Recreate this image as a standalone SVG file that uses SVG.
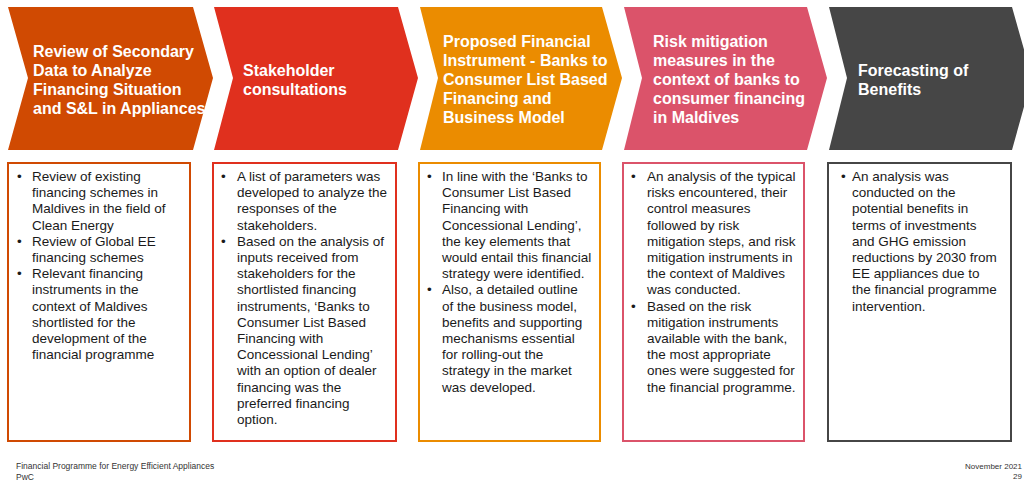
<svg xmlns="http://www.w3.org/2000/svg" width="1024" height="481" viewBox="0 0 1024 481">
<style>
.hd{font-family:"Liberation Sans",Arial,sans-serif;font-weight:bold;font-size:16px;fill:#ffffff}
.bd{font-family:"Liberation Sans",Arial,sans-serif;font-size:13.5px;fill:#1a1a1a}
.ft{font-family:"Liberation Sans",Arial,sans-serif;font-size:8.5px;fill:#333333}
.fr{font-family:"Liberation Sans",Arial,sans-serif;font-size:8px;fill:#333333;text-anchor:end}
.box{fill:#ffffff;stroke-width:2}
</style>
<rect x="0" y="0" width="1024" height="481" fill="#ffffff"/>
<g id="connectors"/>

<g id="step1-header">
<path d="M8,7 L193,7 L213,78 L193,150 L8,150 L28,78 Z" fill="#D04A02"/>
<text class="hd"><tspan x="33" y="57">Review of Secondary</tspan><tspan x="33" y="76">Data to Analyze</tspan><tspan x="33" y="95">Financing Situation</tspan><tspan x="33" y="114">and S&amp;L in Appliances</tspan></text>
</g>
<g id="step2-header">
<path d="M214,7 L398,7 L418,78 L398,150 L214,150 L233,78 Z" fill="#E0301E"/>
<text class="hd"><tspan x="243" y="76">Stakeholder</tspan><tspan x="243" y="95">consultations</tspan></text>
</g>
<g id="step3-header">
<path d="M420,7 L602,7 L622,78 L602,150 L420,150 L438,78 Z" fill="#EB8C00"/>
<text class="hd"><tspan x="443" y="47">Proposed Financial</tspan><tspan x="443" y="66">Instrument - Banks to</tspan><tspan x="443" y="85">Consumer List Based</tspan><tspan x="443" y="104">Financing and</tspan><tspan x="443" y="123">Business Model</tspan></text>
</g>
<g id="step4-header">
<path d="M624,7 L807,7 L827,78 L807,150 L624,150 L642,78 Z" fill="#DB536A"/>
<text class="hd"><tspan x="653" y="47">Risk mitigation</tspan><tspan x="653" y="66">measures in the</tspan><tspan x="653" y="85">context of banks to</tspan><tspan x="653" y="104">consumer financing</tspan><tspan x="653" y="123">in Maldives</tspan></text>
</g>
<g id="step5-header">
<path d="M829,7 L1012,7 L1032,78 L1012,150 L829,150 L847,78 Z" fill="#464646"/>
<text class="hd"><tspan x="858" y="76">Forecasting of</tspan><tspan x="858" y="95">Benefits</tspan></text>
</g>

<g id="step1-box">
<rect class="box" x="8" y="163" width="182" height="278" stroke="#D04A02"/>
<text class="bd"><tspan x="17" y="181">•</tspan><tspan x="17" y="245.8">•</tspan><tspan x="17" y="278.2">•</tspan></text>
<text class="bd"><tspan x="32" y="181">Review of existing</tspan><tspan x="32" y="197.2">financing schemes in</tspan><tspan x="32" y="213.4">Maldives  in the field of</tspan><tspan x="32" y="229.6">Clean Energy</tspan><tspan x="32" y="245.8">Review of Global EE</tspan><tspan x="32" y="262">financing schemes</tspan><tspan x="32" y="278.2">Relevant financing</tspan><tspan x="32" y="294.4">instruments in the</tspan><tspan x="32" y="310.6">context of Maldives</tspan><tspan x="32" y="326.8">shortlisted for the</tspan><tspan x="32" y="343">development  of the</tspan><tspan x="32" y="359.2">financial programme</tspan></text>
</g>
<g id="step2-box">
<rect class="box" x="213" y="163" width="183" height="278" stroke="#E0301E"/>
<text class="bd"><tspan x="221" y="181">•</tspan><tspan x="221" y="245.8">•</tspan></text>
<text class="bd"><tspan x="237" y="181">A list of parameters was</tspan><tspan x="237" y="197.2">developed  to analyze the</tspan><tspan x="237" y="213.4">responses of the</tspan><tspan x="237" y="229.6">stakeholders.</tspan><tspan x="237" y="245.8">Based on the analysis of</tspan><tspan x="237" y="262">inputs received from</tspan><tspan x="237" y="278.2">stakeholders for the</tspan><tspan x="237" y="294.4">shortlisted financing</tspan><tspan x="237" y="310.6">instruments, ‘Banks to</tspan><tspan x="237" y="326.8">Consumer List Based</tspan><tspan x="237" y="343">Financing with</tspan><tspan x="237" y="359.2">Concessional Lending’</tspan><tspan x="237" y="375.4">with an option of dealer</tspan><tspan x="237" y="391.6">financing was the</tspan><tspan x="237" y="407.8">preferred financing</tspan><tspan x="237" y="424">option.</tspan></text>
</g>
<g id="step3-box">
<rect class="box" x="419" y="163" width="181" height="278" stroke="#EB8C00"/>
<text class="bd"><tspan x="427" y="181">•</tspan><tspan x="427" y="294.4">•</tspan></text>
<text class="bd"><tspan x="442" y="181">In line with the ‘Banks to</tspan><tspan x="442" y="197.2">Consumer List Based</tspan><tspan x="442" y="213.4">Financing with</tspan><tspan x="442" y="229.6">Concessional Lending’,</tspan><tspan x="442" y="245.8">the key elements that</tspan><tspan x="442" y="262">would entail this financial</tspan><tspan x="442" y="278.2">strategy were identified.</tspan><tspan x="442" y="294.4">Also, a detailed outline</tspan><tspan x="442" y="310.6">of the business model,</tspan><tspan x="442" y="326.8">benefits and supporting</tspan><tspan x="442" y="343">mechanisms essential</tspan><tspan x="442" y="359.2">for rolling-out the</tspan><tspan x="442" y="375.4">strategy in the market</tspan><tspan x="442" y="391.6">was developed.</tspan></text>
</g>
<g id="step4-box">
<rect class="box" x="623" y="163" width="181" height="278" stroke="#DB536A"/>
<text class="bd"><tspan x="631" y="181">•</tspan><tspan x="631" y="310.6">•</tspan></text>
<text class="bd"><tspan x="647" y="181">An analysis  of the typical</tspan><tspan x="647" y="197.2">risks encountered, their</tspan><tspan x="647" y="213.4">control measures</tspan><tspan x="647" y="229.6">followed by risk</tspan><tspan x="647" y="245.8">mitigation steps, and risk</tspan><tspan x="647" y="262">mitigation instruments in</tspan><tspan x="647" y="278.2">the context of Maldives</tspan><tspan x="647" y="294.4">was conducted.</tspan><tspan x="647" y="310.6">Based on the risk</tspan><tspan x="647" y="326.8">mitigation instruments</tspan><tspan x="647" y="343">available with the bank,</tspan><tspan x="647" y="359.2">the most appropriate</tspan><tspan x="647" y="375.4">ones were suggested for</tspan><tspan x="647" y="391.6">the financial programme.</tspan></text>
</g>
<g id="step5-box">
<rect class="box" x="828" y="163" width="183" height="278" stroke="#464646"/>
<text class="bd"><tspan x="841" y="181">•</tspan></text>
<text class="bd"><tspan x="852" y="181">An analysis was</tspan><tspan x="852" y="197.2">conducted on the</tspan><tspan x="852" y="213.4">potential benefits in</tspan><tspan x="852" y="229.6">terms of investments</tspan><tspan x="852" y="245.8">and GHG emission</tspan><tspan x="852" y="262">reductions by 2030 from</tspan><tspan x="852" y="278.2">EE appliances due to</tspan><tspan x="852" y="294.4">the financial programme</tspan><tspan x="852" y="310.6">intervention.</tspan></text>
</g>

<g id="footer">
<text class="ft" x="16" y="469">Financial Programme for Energy Efficient Appliances</text>
<text class="ft" x="16" y="480">PwC</text>
<text class="fr" x="1022" y="469">November 2021</text>
<text class="fr" x="1022" y="479">29</text>
</g>
</svg>
